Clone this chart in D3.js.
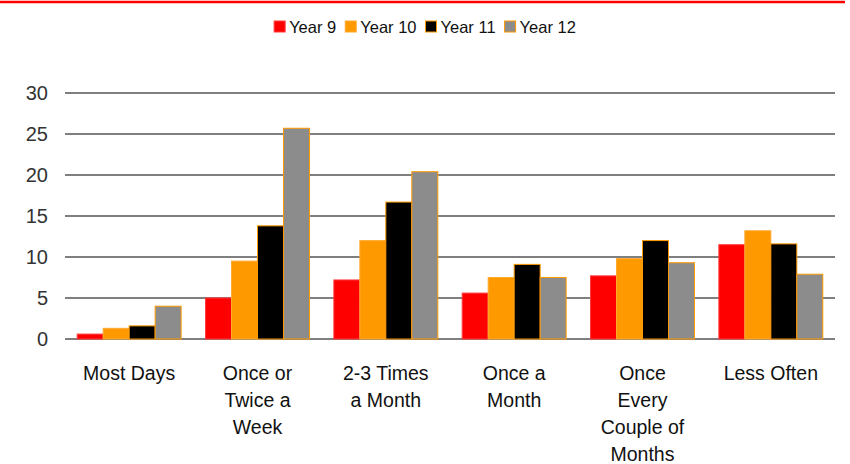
<!DOCTYPE html>
<html><head><meta charset="utf-8">
<script src="https://cdn.jsdelivr.net/npm/d3@7"></script>
<style>body{margin:0;background:#fff;font-family:"Liberation Sans",Arial,sans-serif}</style>
</head><body><svg id="chart" width="850" height="464"></svg>
<script>
const categories = [["Most Days"], ["Once or", "Twice a", "Week"], ["2-3 Times", "a Month"], ["Once a", "Month"], ["Once", "Every", "Couple of", "Months"], ["Less Often"]];
const seriesNames = ["Year 9", "Year 10", "Year 11", "Year 12"];
const year9 = [0.6, 5.0, 7.2, 5.6, 7.7, 11.5];
const year10 = [1.3, 9.5, 12.0, 7.5, 9.8, 13.2];
const year11 = [1.6, 13.8, 16.7, 9.1, 12.0, 11.6];
const year12 = [4.0, 25.7, 20.4, 7.5, 9.3, 7.9];
const yTicks = [0, 5, 10, 15, 20, 25, 30];

const series = [year9, year10, year11, year12];
const colors = ["#ff0000", "#ff9900", "#000000", "#8c8c8c"];
const strokes = ["#ff3b3b", "#ffaa33", "#ff9900", "#ff9900"];

const svg = d3.select("#chart");
const margin = { left: 65, right: 15, top: 93, bottom: 125 };
const width = 850, height = 464;

svg.append("line").attr("x1", 0).attr("x2", 845).attr("y1", 2).attr("y2", 2)
  .attr("stroke", "#ff0000").attr("stroke-width", 2.5);

const x0 = d3.scaleBand().domain(d3.range(categories.length))
  .range([margin.left, width - margin.right]).paddingInner(0.19).paddingOuter(0.095);
const x1 = d3.scaleBand().domain(d3.range(series.length)).range([0, x0.bandwidth()]);
const y = d3.scaleLinear().domain([0, 30]).range([height - margin.bottom, margin.top]);

// gridlines
svg.append("g").selectAll("line").data(yTicks).join("line")
  .attr("x1", margin.left).attr("x2", width - margin.right)
  .attr("y1", d => y(d)).attr("y2", d => y(d))
  .attr("stroke", "#555").attr("stroke-width", 1.3);

svg.append("g").selectAll("text").data(yTicks).join("text")
  .attr("x", 48).attr("y", d => y(d)).attr("dy", "0.35em")
  .attr("text-anchor", "end").attr("font-size", 20).attr("fill", "#333").text(d => d);

// bars
series.forEach((vals, s) => {
  svg.append("g").selectAll("rect").data(vals).join("rect")
    .attr("x", (d, i) => x0(i) + x1(s))
    .attr("width", x1.bandwidth())
    .attr("y", d => y(d))
    .attr("height", d => y(0) - y(d))
    .attr("fill", colors[s])
    .attr("stroke", strokes[s]).attr("stroke-width", 1);
});

// x labels
const xl = svg.append("g").selectAll("text").data(categories).join("text")
  .attr("text-anchor", "middle").attr("font-size", 19.5).attr("fill", "#111")
  .attr("x", (d, i) => x0(i) + x0.bandwidth() / 2);
xl.selectAll("tspan").data(d => d).join("tspan")
  .attr("x", function () { return this.parentNode.getAttribute("x"); })
  .attr("y", (d, j) => 380 + j * 27).text(d => d);

// legend
const legend = svg.append("g");
let lx = 0;
const items = seriesNames.map((n, i) => {
  const g = legend.append("g").attr("transform", `translate(${lx},0)`);
  g.append("rect").attr("x", 0).attr("y", -6).attr("width", 11).attr("height", 11)
    .attr("fill", colors[i]).attr("stroke", strokes[i]);
  const t = g.append("text").attr("x", 15).attr("y", 0).attr("dy", "0.35em")
    .attr("font-size", 16.5).attr("fill", "#111").text(n);
  lx += 15 + t.node().getComputedTextLength() + 9;
  return g;
});
const lw = lx - 9;
legend.attr("transform", `translate(${(width - lw) / 2},27)`);
</script></body></html>
